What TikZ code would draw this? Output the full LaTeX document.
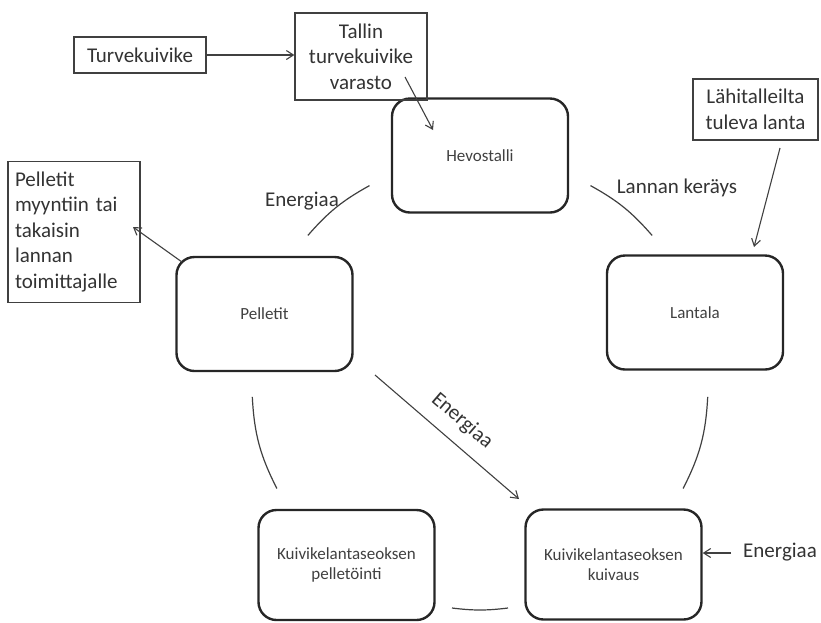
\documentclass[tikz,border=0pt]{standalone}
\usepackage{fontspec}
\setmainfont{Carlito}
\usetikzlibrary{arrows.meta,calc}
\begin{document}
\begin{tikzpicture}[x=1pt,y=-1pt,
  cyclebox/.style={draw=black!85, line width=2.4pt, rounded corners=18pt,
    minimum width=176pt, minimum height=114pt, inner sep=2pt, align=center,
    font=\fontsize{17}{20}\selectfont, text=black!75},
  rectbox/.style={draw=black!75, line width=1.3pt, inner sep=6pt, align=center,
    font=\fontsize{21}{25.5}\selectfont, text=black!80},
  biglabel/.style={font=\fontsize{21}{25.5}\selectfont, text=black!80, inner sep=0pt},
  arcline/.style={draw=black!75, line width=1.2pt},
  arr/.style={draw=black!75, line width=1.1pt, -{Straight Barb[length=7pt,width=9pt]}}
]
\useasboundingbox (0,0) rectangle (821,622);

% cycle boxes
\node[cyclebox] (hevo) at (480,155.5) {Hevostalli};
\node[cyclebox] (lantala) at (695,312.5) {Lantala};
\node[cyclebox] (pelletit) at (264.5,314) {Pelletit};
\node[cyclebox, minimum height=110pt] (pelletointi) at (346.5,565) {Kuivikelantaseoksen\\pelletöinti};
\node[cyclebox, minimum height=110pt] (kuivaus) at (613.5,564.5) {Kuivikelantaseoksen\\kuivaus};

% rectangular boxes
\node[rectbox, minimum width=132pt, minimum height=36pt] (turv) at (140,55) {Turvekuivike};
\node[rectbox, minimum width=132pt, minimum height=87pt] (tallin) at (361,56.5) {Tallin\\turvekuivike\\varasto};
\node[rectbox, minimum width=125pt, minimum height=61pt] (lahi) at (755.5,109.5) {Lähitalleilta\\tuleva lanta};
\node[rectbox, text width=118pt, align=left, minimum height=141pt, inner sep=7pt] (myynti) at (74,232)
  {Pelletit\\myyntiin tai\\takaisin\\lannan\\toimittajalle};

% labels
\node[biglabel] (en1) at (302,201) {Energiaa};
\node[biglabel] (keray) at (677,188) {Lannan keräys};
\node[biglabel] (en2) at (780,552) {Energiaa};
\node[biglabel, rotate=-40.7] (en3) at (462,421) {Energiaa};

% arc end points
\coordinate (a1s) at (590.5,185.6);
\coordinate (a1e) at (652.1,235.4);
\coordinate (a2s) at (707.7,396.9);
\coordinate (a2e) at (683.1,488.5);
\coordinate (a3s) at (508,608);
\coordinate (a3e) at (452,608);
\coordinate (a4s) at (276.9,488.5);
\coordinate (a4e) at (252.3,396.9);
\coordinate (a5s) at (307.9,235.4);
\coordinate (a5e) at (369.5,185.6);

\draw[arcline] (a1s) to[bend left=10] (a1e);
\draw[arcline] (a2s) to[bend left=12] (a2e);
\draw[arcline] (a3s) to[bend left=7] (a3e);
\draw[arcline] (a4s) to[bend left=12] (a4e);
\draw[arcline] (a5s) to[bend left=10] (a5e);

% arrows
\draw[arr] (turv.east) -- (turv.east -| tallin.west);
\coordinate (tallinout) at (405,77);
\coordinate (hevoin) at (433,130);
\draw[arr] (tallinout) -- (hevoin);
\coordinate (lahiout) at (780,148);
\coordinate (lantalain) at (754,247);
\draw[arr] (lahiout) -- (lantalain);
\coordinate (pellout) at (182,262);
\coordinate (myyntiin) at (133,227);
\draw[arr] (pellout) -- (myyntiin);
\coordinate (diagstart) at (375,375);
\coordinate (diagend) at (519,499);
\draw[arr] (diagstart) -- (diagend);
\coordinate (en2out) at (731,553);
\draw[arr] (en2out) -- (kuivaus.east |- en2out);
\end{tikzpicture}
\end{document}
